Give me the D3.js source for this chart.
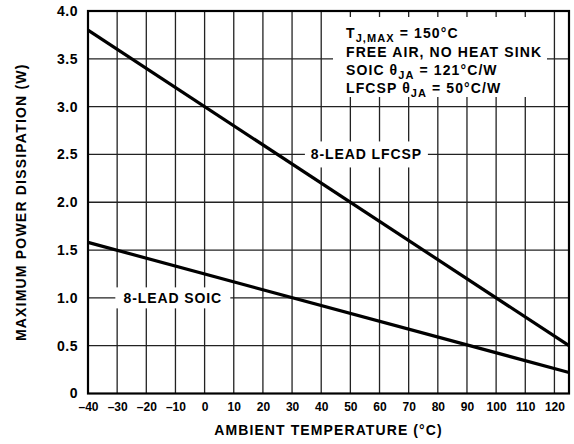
<!DOCTYPE html>
<html>
<head>
<meta charset="utf-8">
<script src="https://cdn.jsdelivr.net/npm/d3@7"></script>
<style>
  body { margin: 0; background: #fff; }
  text { font-family: "Liberation Sans", Arial, sans-serif; font-weight: bold; fill: #000; }
</style>
</head>
<body>
<svg></svg>
<script>
// data
var temps = [-40, 125];
var lfcsp = [3.8, 0.5];
var soic = [1.58, 0.22];
var xTicks = d3.range(-40, 121, 10);
var yTicks = [0, 0.5, 1.0, 1.5, 2.0, 2.5, 3.0, 3.5, 4.0];
var noteLines = ["FREE AIR, NO HEAT SINK"];

var margin = {top: 11, right: 5, bottom: 50.5, left: 88};
var W = 574, H = 444;
var width = W - margin.left - margin.right;
var height = H - margin.top - margin.bottom;

var svg = d3.select("svg").attr("width", W).attr("height", H);
var g = svg.append("g").attr("transform", "translate(" + margin.left + "," + margin.top + ")");

var x = d3.scaleLinear().domain([-40, 125]).range([0, width]);
var y = d3.scaleLinear().domain([0, 4]).range([height, 0]);

// grid
g.selectAll(".vgrid").data(xTicks.slice(1)).enter().append("line")
    .attr("x1", function(d) { return x(d); }).attr("x2", function(d) { return x(d); })
    .attr("y1", 0).attr("y2", height)
    .attr("stroke", "#222").attr("stroke-width", 1.3);
g.selectAll(".hgrid").data(yTicks.slice(1, -1)).enter().append("line")
    .attr("x1", 0).attr("x2", width)
    .attr("y1", function(d) { return y(d); }).attr("y2", function(d) { return y(d); })
    .attr("stroke", "#222").attr("stroke-width", 1.3);

// axes: labels only, frame drawn below
var xAxis = g.append("g").attr("transform", "translate(0," + height + ")")
    .call(d3.axisBottom(x).tickValues(xTicks).tickSize(0).tickPadding(9)
      .tickFormat(function(d) { return d < 0 ? "\u2013" + (-d) : d; }));
xAxis.select(".domain").remove();
xAxis.selectAll("text").style("font-size", "12px").style("font-family", "Liberation Sans, Arial, sans-serif").style("font-weight", "bold");

var yAxis = g.append("g")
    .call(d3.axisLeft(y).tickValues(yTicks).tickSize(0).tickPadding(10)
      .tickFormat(function(d) { return d === 0 ? "0" : d3.format(".1f")(d); }));
yAxis.select(".domain").remove();
yAxis.selectAll("text").style("font-size", "14px").style("letter-spacing", "0.5px")
    .style("font-family", "Liberation Sans, Arial, sans-serif").style("font-weight", "bold");

// series lines
var line = d3.line().x(function(d) { return x(d[0]); }).y(function(d) { return y(d[1]); });
[lfcsp, soic].forEach(function(vals) {
  g.append("path")
      .datum(d3.zip(temps, vals))
      .attr("d", line)
      .attr("fill", "none")
      .attr("stroke", "#000")
      .attr("stroke-width", 3.2);
});

// line labels with white boxes
function lineLabel(txt, cx, cy, bw, bh) {
  g.append("rect")
      .attr("x", x(cx) - bw / 2).attr("y", y(cy) - bh / 2)
      .attr("width", bw).attr("height", bh).attr("fill", "#fff");
  g.append("text")
      .attr("x", x(cx)).attr("y", y(cy))
      .attr("dy", "0.36em")
      .attr("text-anchor", "middle")
      .style("font-size", "14px")
      .style("letter-spacing", "0.9px")
      .text(txt);
}
lineLabel("8-LEAD LFCSP", 55.5, 2.5, 123, 26);
lineLabel("8-LEAD SOIC", -10.9, 1.0, 115, 21);

// note box
var nb = g.append("g").attr("transform", "translate(" + (333 - margin.left) + "," + (17 - margin.top) + ")");
nb.append("rect").attr("width", 214).attr("height", 80).attr("fill", "#fff");
var t1 = nb.append("text").attr("x", 13).attr("y", 21).style("font-size", "14px").style("letter-spacing", "1.1px");
t1.append("tspan").text("T");
t1.append("tspan").attr("dy", 4).style("font-size", "11px").text("J,MAX");
t1.append("tspan").attr("dy", -4).text(" = 150\u00B0C");
nb.append("text").attr("x", 13).attr("y", 39.5).style("font-size", "14px").style("letter-spacing", "1.1px").text(noteLines[0]);
var t3 = nb.append("text").attr("x", 13).attr("y", 58).style("font-size", "14px").style("letter-spacing", "1.1px");
t3.append("tspan").text("SOIC \u03B8");
t3.append("tspan").attr("dy", 4).style("font-size", "11px").text("JA");
t3.append("tspan").attr("dy", -4).text(" = 121\u00B0C/W");
var t4 = nb.append("text").attr("x", 13).attr("y", 76).style("font-size", "14px").style("letter-spacing", "1.1px");
t4.append("tspan").text("LFCSP \u03B8");
t4.append("tspan").attr("dy", 4).style("font-size", "11px").text("JA");
t4.append("tspan").attr("dy", -4).text(" = 50\u00B0C/W");

// frame
g.append("rect").attr("width", width).attr("height", height)
    .attr("fill", "none").attr("stroke", "#000").attr("stroke-width", 2.2);

// axis titles
svg.append("text")
    .attr("x", margin.left + width / 2).attr("y", 435)
    .attr("text-anchor", "middle")
    .style("font-size", "14px").style("letter-spacing", "1.1px")
    .text("AMBIENT TEMPERATURE (\u00B0C)");
svg.append("text")
    .attr("transform", "translate(26," + (margin.top + height / 2) + ") rotate(-90)")
    .attr("text-anchor", "middle")
    .style("font-size", "14px").style("letter-spacing", "1.2px")
    .text("MAXIMUM POWER DISSIPATION (W)");
</script>
</body>
</html>
